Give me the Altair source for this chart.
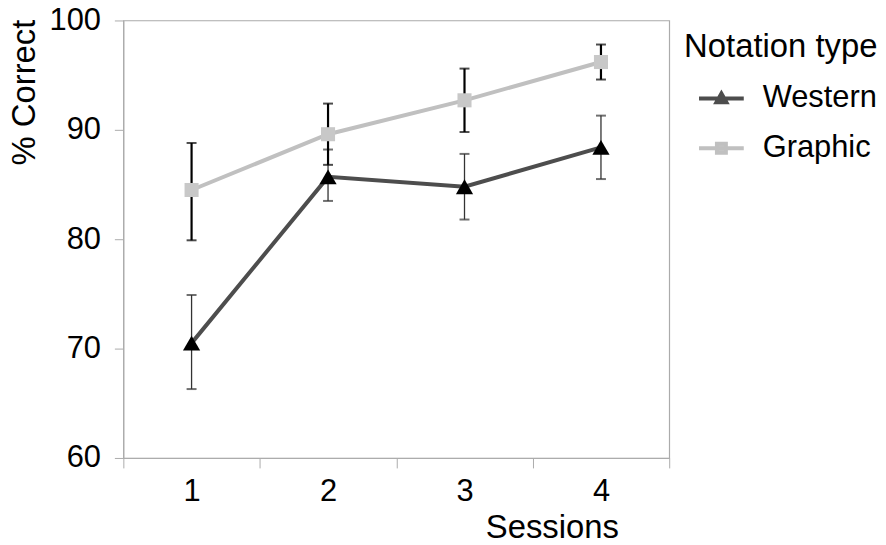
import altair as alt
import pandas as pd

sessions = ["1", "2", "3", "4"]
series = ["Western", "Graphic"]
western_mean = [70.5, 85.7, 84.8, 88.4]
western_lo = [66.3, 83.5, 81.8, 85.5]
western_hi = [74.9, 88.2, 87.8, 91.3]
graphic_mean = [84.5, 89.6, 92.7, 96.2]
graphic_lo = [79.9, 86.8, 89.8, 94.6]
graphic_hi = [88.8, 92.4, 95.6, 97.8]

line_colors = ["#4d4d4d", "#c0c0c0"]
marker_colors = ["#000000", "#c8c8c8"]
# legend symbols: a line with the marker on it (unit coordinates)
legend_symbols = [
    "M-1,0H1M0,-0.22L0.22,0.17L-0.22,0.17Z",
    "M-1,0H1M-0.2,-0.2H0.2V0.2H-0.2Z",
]

rows = []
for name, means, los, his in [
    ("Western", western_mean, western_lo, western_hi),
    ("Graphic", graphic_mean, graphic_lo, graphic_hi),
]:
    for s, m, lo, hi in zip(sessions, means, los, his):
        rows.append({"session": s, "series": name, "mean": m, "lo": lo, "hi": hi})
df = pd.DataFrame(rows)

FONT = "Liberation Sans"
GRAY = "#ababab"
PLOT_H = 440

x_enc = alt.X(
    "session:N",
    sort=sessions,
    scale=alt.Scale(type="band", paddingInner=0, paddingOuter=0),
    axis=alt.Axis(
        title="Sessions",
        labelAngle=0,
        tickBand="extent",
        tickSize=10,
        tickColor=GRAY,
        domainColor=GRAY,
        labelFont=FONT,
        labelFontSize=31,
        labelColor="black",
        labelPadding=9,
        titleFont=FONT,
        titleFontSize=33,
        titleFontWeight="normal",
        titleColor="black",
        titleX=431,
        titleY=80,
        titleAlign="center",
        titleBaseline="alphabetic",
        grid=False,
    ),
)

y_scale = alt.Scale(domain=[60, 100], nice=False, zero=False)
y_axis = alt.Axis(
    values=[60, 70, 80, 90, 100],
    title="% Correct",
    tickSize=9,
    tickColor=GRAY,
    domainColor=GRAY,
    labelFont=FONT,
    labelFontSize=31,
    labelColor="black",
    labelPadding=14,
    titleFont=FONT,
    titleFontSize=33,
    titleFontWeight="normal",
    titleColor="black",
    titleX=-99,
    titleY=72,
    titleAngle=270,
    titleAlign="center",
    titleBaseline="middle",
    grid=False,
)

legend = alt.Legend(
    title="Notation type",
    orient="none",
    legendX=564,
    legendY=11,
    padding=0,
    symbolSize=2025,
    symbolStrokeWidth=4,
    symbolOffset=13,
    labelOffset=17,
    titleFont=FONT,
    titleFontSize=33,
    titleFontWeight="normal",
    titleColor="black",
    titlePadding=10,
    titleLimit=400,
    labelFont=FONT,
    labelFontSize=31,
    labelColor="black",
    labelLimit=400,
    rowPadding=10,
)

stroke_enc = alt.Stroke(
    "series:N", scale=alt.Scale(domain=series, range=line_colors), legend=legend
)

base = alt.Chart(df)

# legend-only layer: no rows pass the filter; the legend comes from the scale domains
legend_layer = (
    base.transform_filter("datum.mean > 1000")
    .mark_point(filled=True, opacity=1)
    .encode(
        x=x_enc,
        y=alt.Y("mean:Q", scale=y_scale),
        fill=alt.Fill(
            "series:N", scale=alt.Scale(domain=series, range=marker_colors), legend=legend
        ),
        stroke=stroke_enc,
        shape=alt.Shape(
            "series:N", scale=alt.Scale(domain=series, range=legend_symbols), legend=legend
        ),
    )
)

lines = base.mark_line(strokeWidth=4).encode(
    x=x_enc,
    y=alt.Y("mean:Q", scale=y_scale, axis=y_axis),
    stroke=stroke_enc,
)


def error_layers(name, color, width):
    sub = base.transform_filter(alt.datum.series == name)
    bar = sub.mark_rule(color=color, strokeWidth=width).encode(
        x=x_enc, y=alt.Y("lo:Q", scale=y_scale), y2="hi:Q"
    )
    lo_cap = sub.mark_tick(color=color, size=10, thickness=2).encode(
        x=x_enc, y=alt.Y("lo:Q", scale=y_scale)
    )
    hi_cap = sub.mark_tick(color=color, size=10, thickness=2).encode(
        x=x_enc, y=alt.Y("hi:Q", scale=y_scale)
    )
    return [bar, lo_cap, hi_cap]


def marker(name, shape, color, size):
    return (
        base.transform_filter(alt.datum.series == name)
        .mark_point(shape=shape, filled=True, color=color, size=size, opacity=1, strokeWidth=0)
        .encode(x=x_enc, y=alt.Y("mean:Q", scale=y_scale))
    )


layers = [legend_layer, lines]
layers += error_layers(series[0], "#333333", 1.3)
layers += error_layers(series[1], "#000000", 2.2)
layers += [
    marker(series[0], "triangle-up", marker_colors[0], 300),
    marker(series[1], "square", marker_colors[1], 200),
]

chart = (
    alt.layer(*layers)
    .properties(
        width=549,
        height=PLOT_H,
        autosize=alt.AutoSizeParams(type="none"),
        padding={"left": 116, "top": 11, "right": 210, "bottom": 86},
        background="white",
    )
    .configure_view(stroke=GRAY, strokeWidth=1.2)
)

chart.save("out.html", embed_options={"renderer": "svg", "actions": False})
